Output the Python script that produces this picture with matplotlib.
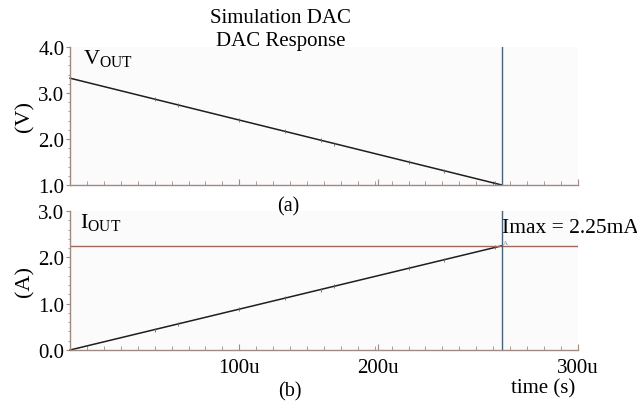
import matplotlib.pyplot as plt
from matplotlib.patches import ConnectionPatch
from matplotlib.ticker import MultipleLocator

plt.rcParams["font.family"] = ["Liberation Serif", "DejaVu Serif"]
plt.rcParams["mathtext.fontset"] = "custom"
plt.rcParams["mathtext.rm"] = "Liberation Serif"

# time in microseconds
t = [0, 255]
vout = [3.32, 1.0]
iout = [0.0, 2.25]
t_cursor = 255
imax = 2.25

# little simulator glitch marks along the traces
glitch_t = [50, 64, 100, 127, 148, 156, 200, 221, 251]

xtick_pos = [100, 182, 300]
xtick_labels = ["100u", "200u", "300u"]
v_ticks = [1.0, 2.0, 3.0, 4.0]
i_ticks = [0.0, 1.0, 2.0, 3.0]

spine_col = "#a08a84"
trace_col = "#1e1e1e"
cursor_col = "#4a6278"
hline_col = "#a0675a"
bg_col = "#fbfbfb"

fig = plt.figure(figsize=(6.37, 4.06), dpi=100)
ax1 = fig.add_axes([0.110, 0.542, 0.797, 0.340])
ax2 = fig.add_axes([0.110, 0.1355, 0.797, 0.342])


def lerp(xs, ys, x):
    return ys[0] + (ys[1] - ys[0]) * (x - xs[0]) / (xs[1] - xs[0])


def style(ax, ticks):
    ax.set_facecolor(bg_col)
    for s in ["top", "right"]:
        ax.spines[s].set_visible(False)
    for s in ["left", "bottom"]:
        ax.spines[s].set_color(spine_col)
        ax.spines[s].set_linewidth(1.0)
    ax.set_xlim(0, 300)
    ax.set_ylim(ticks[0], ticks[-1])
    ax.set_yticks(ticks)
    ax.set_yticklabels(["%.1f" % v for v in ticks])
    ax.yaxis.set_minor_locator(MultipleLocator(0.2))
    ax.xaxis.set_minor_locator(MultipleLocator(10))
    ax.tick_params(axis="both", which="both", colors=spine_col, labelcolor="black",
                   labelsize=15)
    ax.tick_params(axis="y", which="major", direction="out", length=3, pad=1)
    ax.tick_params(axis="y", which="minor", direction="out", length=1.5)
    ax.tick_params(axis="x", which="major", direction="in", length=4)
    ax.tick_params(axis="x", which="minor", direction="in", length=3)


style(ax1, v_ticks)
style(ax2, i_ticks)

ax1.set_xticks(xtick_pos)
ax1.set_xticklabels([])
ax2.set_xticks(xtick_pos)
ax2.set_xticklabels(xtick_labels)
ax2.tick_params(axis="x", pad=6)

ax1.plot(t, vout, color=trace_col, lw=1.1, clip_on=False)
ax2.plot(t, iout, color=trace_col, lw=1.1, clip_on=False)
ax1.plot(glitch_t, [lerp(t, vout, g) for g in glitch_t], ls="none", marker="|",
         ms=3, mew=0.6, color="#666666")
ax2.plot(glitch_t, [lerp(t, iout, g) for g in glitch_t], ls="none", marker="|",
         ms=3, mew=0.6, color="#666666")

ax2.axhline(imax, color=hline_col, lw=1.0)
ax1.axvline(t_cursor, color=cursor_col, lw=1.0)
ax2.axvline(t_cursor, color=cursor_col, lw=1.0)
con = ConnectionPatch(xyA=(t_cursor, 4.0), coordsA="data", axesA=ax1,
                      xyB=(t_cursor, -0.14), coordsB="data", axesB=ax2,
                      color=cursor_col, lw=1.0)
fig.add_artist(con)

ax1.set_ylabel("(V)", fontsize=16, labelpad=3)
ax2.set_ylabel("(A)", fontsize=16, labelpad=3)

ax1.text(0.025, 1.0, r"V$_{\rm OUT}$", transform=ax1.transAxes, fontsize=16,
         va="top", ha="left")
ax2.text(0.02, 1.0, r"I$_{\rm OUT}$", transform=ax2.transAxes, fontsize=16,
         va="top", ha="left")
ax2.text(t_cursor, imax + 0.2, "Imax = 2.25mA", fontsize=15.5, ha="left", va="bottom")
ax2.text(t_cursor + 1, imax + 0.02, "A", fontsize=5, color="#7a8a9a", ha="left",
         va="bottom")

fig.text(0.440, 0.955, "Simulation DAC", fontsize=15, ha="center", va="center")
fig.text(0.440, 0.897, "DAC Response", fontsize=15, ha="center", va="center")
fig.text(0.452, 0.490, "(a)", fontsize=14.5, ha="center", va="center")
fig.text(0.455, 0.035, "(b)", fontsize=14.5, ha="center", va="center")
fig.text(0.853, 0.042, "time (s)", fontsize=15, ha="center", va="center")

fig.savefig("out.png", dpi=100, facecolor="white")
